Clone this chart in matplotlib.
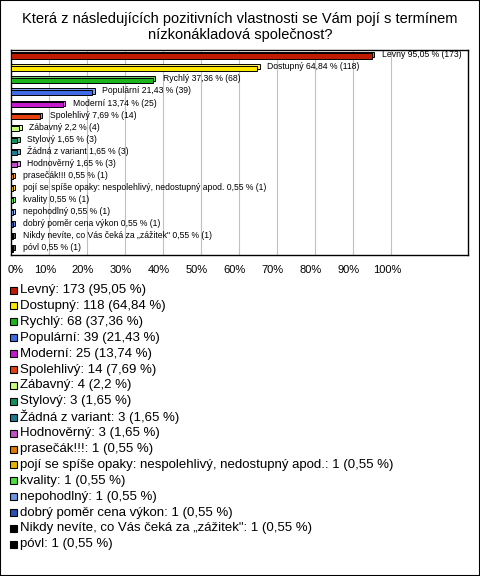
import matplotlib.pyplot as plt
from matplotlib.patches import Rectangle
from matplotlib.transforms import ScaledTranslation

plt.rcParams["font.family"] = ["Liberation Sans", "DejaVu Sans"]

W, H = 480, 576

title = "Která z následujících pozitivních vlastnosti se Vám pojí s termínem\nnízkonákladová společnost?"

labels = [
    "Levný", "Dostupný", "Rychlý", "Populární", "Moderní", "Spolehlivý",
    "Zábavný", "Stylový", "Žádná z variant", "Hodnověrný", "prasečák!!!",
    "pojí se spíše opaky: nespolehlivý, nedostupný apod.", "kvality",
    "nepohodlný", "dobrý poměr cena výkon",
    "Nikdy nevíte, co Vás čeká za „zážitek\"", "póvl",
]
counts = [173, 118, 68, 39, 25, 14, 4, 3, 3, 3, 1, 1, 1, 1, 1, 1, 1]
percents = [95.05, 64.84, 37.36, 21.43, 13.74, 7.69, 2.2, 1.65, 1.65, 1.65,
            0.55, 0.55, 0.55, 0.55, 0.55, 0.55, 0.55]
colors = [
    "#C01A00", "#FFE800", "#1CB41C", "#3F6AE6", "#C21ACC", "#E64010",
    "#C8FF7A", "#12905A", "#1F7890", "#C050C8", "#E07A00", "#E6B400",
    "#4CE03C", "#6A96E6", "#2650B4", "#000000", "#000000",
]
x_ticks = [0, 10, 20, 30, 40, 50, 60, 70, 80, 90, 100]


def fmt(v):
    return f"{v:g}".replace(".", ",")


def shade(c, f):
    r, g, b = (int(c[i:i + 2], 16) / 255 for i in (1, 3, 5))
    if f > 1:
        k = f - 1
        return (r + (1 - r) * k, g + (1 - g) * k, b + (1 - b) * k)
    return (r * f, g * f, b * f)


fig = plt.figure(figsize=(W / 100, H / 100), dpi=100)
fig.add_artist(Rectangle((0, 0), 1, 1, transform=fig.transFigure, fill=False,
                         edgecolor="black", linewidth=1.5))

fig.text(0.5, 1 - 27 / H, title, ha="center", va="center", fontsize=10.5,
         linespacing=1.1)

ax = fig.add_axes([11 / W, 1 - 255 / H, (468 - 11) / W, 205 / H])
ax.set_xlim(0, 120.3)
n = len(labels)
ax.set_ylim(n - 0.5, -0.5)
for t in x_ticks[1:]:
    ax.axvline(t, color="#C0C0C0", linewidth=0.8, zorder=0)

ys = list(range(n))
# top face for a slight 3D look
ax.barh([y - 0.1 for y in ys], [p + 0.6 for p in percents], height=0.42,
        color=[shade(c, 1.35) for c in colors], edgecolor="black",
        linewidth=0.7, zorder=2)
ax.barh(ys, percents, height=0.42, color=colors, edgecolor="black",
        linewidth=0.7, zorder=3)
for y, lab, p, c in zip(ys, labels, percents, counts):
    ax.text(p + 2.6, y - 0.1, f"{lab} {fmt(p)} % ({c})", va="center",
            ha="left", fontsize=6.2, zorder=4)

ax.set_xticks(x_ticks)
ax.set_xticklabels([f"{t}%" for t in x_ticks], fontsize=8)
ax.tick_params(axis="x", length=0, pad=7)
for i, tl in enumerate(ax.get_xticklabels()):
    dx = 5 if i == 0 else -4
    tl.set_transform(tl.get_transform() + ScaledTranslation(dx / 100, 0, fig.dpi_scale_trans))
ax.set_yticks([])
for s in ax.spines.values():
    s.set_linewidth(1.0)

# legend below the chart
y0, dy = 290, 15.9
for i, (lab, c, p, col) in enumerate(zip(labels, counts, percents, colors)):
    yc = y0 + i * dy
    fig.add_artist(Rectangle((10 / W, 1 - (yc + 3.5) / H), 7 / W, 7 / H,
                             transform=fig.transFigure, facecolor=col,
                             edgecolor="black", linewidth=0.8))
    fig.text(20 / W, 1 - yc / H, f"{lab}: {c} ({fmt(p)} %)", ha="left",
             va="center", fontsize=9.5)

fig.savefig("out.png", dpi=100)
